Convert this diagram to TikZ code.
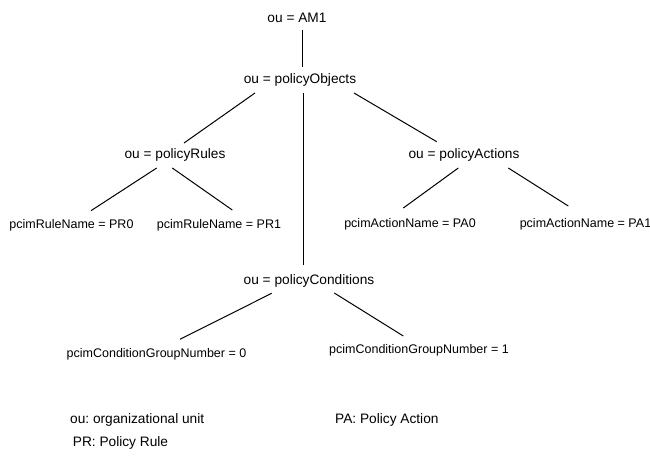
\documentclass[tikz,border=0pt]{standalone}
\usepackage{fontspec}
\setmainfont{Liberation Sans}
\frenchspacing
\begin{document}
\begin{tikzpicture}[x=1pt,y=-1pt,
  entry/.style={anchor=base,inner sep=0pt,font=\fontsize{13.7}{16}\selectfont},
  leaf/.style={anchor=base,inner sep=0pt,font=\fontsize{12.5}{15}\selectfont},
  legend/.style={anchor=base west,inner sep=0pt,font=\fontsize{13.7}{16}\selectfont},
  edge/.style={line width=1pt,black}]
\useasboundingbox[fill=white] (0,0) rectangle (650,466);

% directory tree entries (placed on their baselines)
\node[entry] (am)   at (297,22)    {ou = AM1};
\node[entry] (po)   at (300,83.5)  {ou = policyObjects};
\node[entry] (pr)   at (175,158.3) {ou = policyRules};
\node[entry] (pa)   at (464,158.3) {ou = policyActions};
\node[entry] (pc)   at (309,284.3) {ou = policyConditions};

% leaf entries
\node[leaf] (pr0)  at (71.5,228.3) {pcimRuleName = PR0};
\node[leaf] (pr1)  at (219,228.3)  {pcimRuleName = PR1};
\node[leaf] (pa0)  at (410,227.3)  {pcimActionName = PA0};
\node[leaf] (pa1)  at (585.5,227.3){pcimActionName = PA1};
\node[leaf] (c0)   at (156.5,357.3){pcimConditionGroupNumber = 0};
\node[leaf] (c1)   at (419,353.3)  {pcimConditionGroupNumber = 1};

% legend
\node[legend] (lou) at (70,423.3)   {ou: organizational unit};
\node[legend] (lpa) at (335,423.3)  {PA: Policy Action};
\node[legend] (lpr) at (72.7,446.7) {PR: Policy Rule};

% tree links
\draw[edge] ([shift={(5.5,8)}]am.base)    -- ([shift={(2.5,-16.5)}]po.base);
\draw[edge] ([shift={(-45,9.5)}]po.base)  -- ([shift={(9,-15.3)}]pr.base);
\draw[edge] ([shift={(3,9.5)}]po.base)    -- ([shift={(-6,-19.3)}]pc.base);
\draw[edge] ([shift={(54,9.5)}]po.base)   -- ([shift={(-27.3,-16.6)}]pa.base);
\draw[edge] ([shift={(-18.3,9.7)}]pr.base)-- ([shift={(19.5,-17.6)}]pr0.base);
\draw[edge] ([shift={(-2.7,9.7)}]pr.base) -- ([shift={(13.3,-18.3)}]pr1.base);
\draw[edge] ([shift={(-5.7,9.7)}]pa.base) -- ([shift={(-6.7,-19.3)}]pa0.base);
\draw[edge] ([shift={(44.3,9.7)}]pa.base) -- ([shift={(-17.2,-21.3)}]pa1.base);
\draw[edge] ([shift={(-37.3,9)}]pc.base)  -- ([shift={(23.5,-18)}]c0.base);
\draw[edge] ([shift={(25.3,8.7)}]pc.base) -- ([shift={(-15.7,-17.3)}]c1.base);
\end{tikzpicture}
\end{document}
